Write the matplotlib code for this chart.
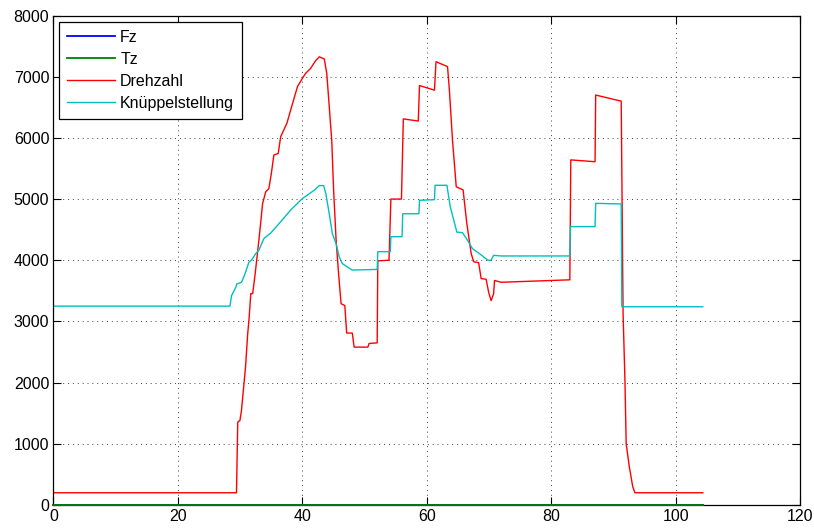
import matplotlib
matplotlib.use("Agg")
import matplotlib.pyplot as plt

plt.rcParams['font.family'] = ['Liberation Sans', 'DejaVu Sans']

# Time axes (s) and series values
t_f = [0, 104.3]
fz = [0, 0]
tz = [0, 0]

t_d = [0, 29.4, 29.6, 29.95, 30.2, 30.5, 30.85, 31.2, 31.4, 31.7, 32.0, 32.4, 33.0, 33.6,
       34.1, 34.6, 35.0, 35.4, 36.1, 36.5, 37.5, 38.1, 39.2, 40.0, 40.5, 41.3, 42.1, 42.7,
       43.5, 43.9, 44.3, 44.7, 45.0, 45.4, 45.8, 46.2, 46.8, 47.1, 48.0, 48.3, 50.5, 50.7,
       52.0, 52.1, 53.9, 54.2, 55.9, 56.2, 58.6, 58.8, 61.2, 61.45, 63.3, 63.6, 64.1, 64.7,
       65.8, 66.4, 67.1, 67.5, 68.3, 68.7, 69.5, 69.9, 70.3, 70.7, 70.85, 71.9, 82.95, 83.1,
       87.0, 87.1, 91.2, 91.5, 91.8, 92.0, 92.5, 93.05, 93.4, 104.3]
drehzahl = [200, 200, 1355, 1380, 1545, 1870, 2255, 2800, 3020, 3455, 3455, 3780, 4330, 4930,
            5120, 5170, 5420, 5720, 5745, 6020, 6240, 6455, 6840, 6975, 7055, 7135, 7260, 7325,
            7290, 7055, 6510, 5960, 5145, 4330, 3780, 3290, 3260, 2810, 2810, 2580, 2580, 2640,
            2650, 3990, 4000, 5000, 5000, 6310, 6275, 6855, 6780, 7245, 7165, 6780, 5960, 5200,
            5150, 4600, 4110, 3975, 3960, 3700, 3690, 3480, 3340, 3450, 3670, 3640, 3680, 5640,
            5610, 6700, 6600, 3130, 2040, 1000, 626, 300, 200, 200]

t_k = [0, 28.35, 28.6, 29.3, 29.43, 30.2, 30.7, 31.4, 31.8, 32.5, 33.0, 33.8, 34.9, 36.5,
       38.1, 40.0, 41.9, 42.7, 43.4, 43.75, 44.3, 44.8, 45.4, 45.9, 46.4, 47.2, 48.0, 52.0,
       52.1, 54.1, 54.2, 56.0, 56.1, 58.7, 58.8, 61.2, 61.3, 63.2, 63.75, 64.3, 64.8, 65.7,
       66.5, 67.3, 68.4, 69.8, 70.3, 70.7, 71.9, 82.95, 83.05, 87.0, 87.1, 91.2, 91.3, 104.3]
knueppel = [3250, 3250, 3420, 3560, 3610, 3640, 3760, 3970, 4000, 4110, 4165, 4355, 4445, 4630,
            4820, 5010, 5145, 5220, 5220, 5090, 4760, 4435, 4270, 4055, 3945, 3890, 3840, 3850,
            4140, 4140, 4385, 4385, 4760, 4760, 4980, 4990, 5225, 5225, 4870, 4655, 4460, 4450,
            4330, 4190, 4110, 4000, 4000, 4080, 4070, 4070, 4550, 4550, 4930, 4920, 3240, 3240]

labels = ["Fz", "Tz", "Drehzahl", "Knüppelstellung"]
xticks = [0, 20, 40, 60, 80, 100, 120]
yticks = [0, 1000, 2000, 3000, 4000, 5000, 6000, 7000, 8000]

fig = plt.figure(figsize=(8.14, 5.31), dpi=100)
ax = fig.add_axes([0.0657, 0.049, 0.9177, 0.9218])

lw = 1.0
ax.plot(t_f, fz, color=(0, 0, 1), lw=1.3, label=labels[0], clip_on=False, zorder=3)
ax.plot(t_f, tz, color=(0, 0.5, 0), lw=1.3, label=labels[1], clip_on=False, zorder=3.1)
ax.plot(t_d, drehzahl, color=(1, 0, 0), lw=lw, label=labels[2])
ax.plot(t_k, knueppel, color=(0, 0.75, 0.75), lw=lw, label=labels[3])

ax.set_xlim(0, 120)
ax.set_ylim(0, 8000)
ax.set_xticks(xticks)
ax.set_yticks(yticks)
ax.tick_params(direction='in', top=True, right=True, length=5.5, width=0.8,
               labelsize=11.5, pad=3)
ax.grid(True, color='0.25', linestyle=(0, (1, 4)), linewidth=0.7)
for s in ax.spines.values():
    s.set_linewidth(0.9)

leg = ax.legend(loc='upper left', bbox_to_anchor=(0.008, 0.987), fontsize=11.5,
                fancybox=False, framealpha=1, edgecolor='black', handlelength=3.0,
                handletextpad=0.3, borderpad=0.5, labelspacing=0.44, borderaxespad=0)
leg.get_frame().set_linewidth(0.9)
leg.set_zorder(5)

fig.savefig("out.png", dpi=100)
